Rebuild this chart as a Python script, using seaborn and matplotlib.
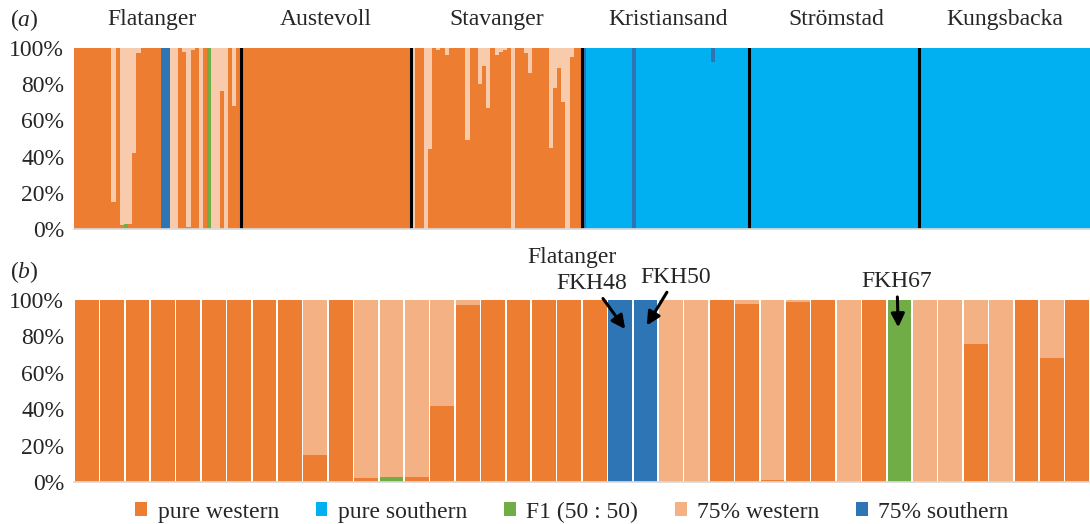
import matplotlib
matplotlib.use('Agg')
import matplotlib.pyplot as plt
from matplotlib.patches import Patch
import seaborn as sns

# ---- data (percent of each class per individual) ----
classes = ['pure western', 'pure southern', 'F1 (50 : 50)', '75% western', '75% southern']
populations = ['Flatanger', 'Austevoll', 'Stavanger', 'Kristiansand', 'Strömstad', 'Kungsbacka']

# Flatanger (40 individuals), shown in both panels
flat_west = [100, 100, 100, 100, 100, 100, 100, 100, 100, 15,
             100, 2, 0, 3, 42, 97, 100, 100, 100, 100,
             100, 0, 0, 0, 0, 100, 98, 1, 99, 100,
             0, 100, 0, 0, 0, 76, 0, 100, 68, 100]
flat_south = [0] * 40
flat_f1 = [0, 0, 0, 0, 0, 0, 0, 0, 0, 0,
           0, 0, 3, 0, 0, 0, 0, 0, 0, 0,
           0, 0, 0, 0, 0, 0, 0, 0, 0, 0,
           0, 0, 100, 0, 0, 0, 0, 0, 0, 0]
flat_w75 = [0, 0, 0, 0, 0, 0, 0, 0, 0, 85,
            0, 98, 97, 97, 58, 3, 0, 0, 0, 0,
            0, 0, 0, 100, 100, 0, 2, 99, 1, 0,
            100, 0, 0, 100, 100, 24, 100, 0, 32, 0]
flat_s75 = [0, 0, 0, 0, 0, 0, 0, 0, 0, 0,
            0, 0, 0, 0, 0, 0, 0, 0, 0, 0,
            0, 100, 100, 0, 0, 0, 0, 0, 0, 0,
            0, 0, 0, 0, 0, 0, 0, 0, 0, 0]

# Austevoll (41) - all pure western
aust_west = [100] * 41

# Stavanger (41)
stav_west = [0, 100, 100, 0, 44, 100, 99, 100, 96, 100,
             100, 100, 100, 49, 100, 100, 80, 90, 67, 100,
             96, 98, 99, 100, 0, 100, 100, 97, 86, 100,
             100, 100, 100, 45, 78, 89, 70, 0, 95, 100, 100]
stav_w75 = [100 - v for v in stav_west]

# Kristiansand (40)
kris_south = [0, 100, 100, 100, 100, 100, 100, 100, 100, 100,
              100, 100, 0, 100, 100, 100, 100, 100, 100, 100,
              100, 100, 100, 100, 100, 100, 100, 100, 100, 100,
              100, 92, 100, 100, 100, 100, 100, 100, 100, 100]
kris_s75 = [100 - v for v in kris_south]

# Strömstad (41), Kungsbacka (41) - all pure southern
stro_south = [100] * 41
kung_south = [100] * 41

pop_sizes = [40, 41, 41, 40, 41, 41]

west_a = flat_west + aust_west + stav_west + [0] * 40 + [0] * 41 + [0] * 41
south_a = flat_south + [0] * 41 + [0] * 41 + kris_south + stro_south + kung_south
f1_a = flat_f1 + [0] * 41 + [0] * 41 + [0] * 40 + [0] * 41 + [0] * 41
w75_a = flat_w75 + [0] * 41 + stav_w75 + [0] * 40 + [0] * 41 + [0] * 41
s75_a = flat_s75 + [0] * 41 + [0] * 41 + kris_s75 + [0] * 41 + [0] * 41

colors_a = ['#ED7D31', '#00B0F0', '#70AD47', '#F8CBAD', '#2E75B6']
colors_b = ['#ED7D31', '#00B0F0', '#70AD47', '#F4B183', '#2E75B6']

sns.set_theme(style='white')
plt.rcParams['font.family'] = ['Liberation Serif', 'DejaVu Serif']
plt.rcParams['mathtext.fontset'] = 'custom'
plt.rcParams['mathtext.rm'] = 'Liberation Serif'
plt.rcParams['mathtext.it'] = 'Liberation Serif:italic'
FS = 17


def stacked(ax, layers, colors, width):
    n = len(layers[0])
    idx = list(range(n))
    cum = [0] * n
    tops = []
    for layer in layers:
        cum = [c + v for c, v in zip(cum, layer)]
        tops.append(cum)
    # draw tallest first so lower classes sit on top of it
    for top, col in reversed(list(zip(tops, colors))):
        sns.barplot(x=idx, y=top, color=col, width=width, saturation=1,
                    errorbar=None, linewidth=0, ax=ax)
    ax.set_xlim(-0.5, n - 0.5)
    ax.set_ylim(0, 100)
    ax.set_xticks([])
    ax.set_yticks([0, 20, 40, 60, 80, 100])
    ax.set_yticklabels(['%d%%' % t for t in [0, 20, 40, 60, 80, 100]], fontsize=FS)
    ax.tick_params(axis='y', length=0, pad=7)
    ax.set_xlabel('')
    ax.set_ylabel('')
    for s in ['top', 'right', 'left']:
        ax.spines[s].set_visible(False)
    ax.spines['bottom'].set_color('#D9D9D9')


fig = plt.figure(figsize=(10.9, 5.24), dpi=100)
ax1 = fig.add_axes([74 / 1090, 1 - 229 / 524, 1016 / 1090, 181 / 524])
ax2 = fig.add_axes([74 / 1090, 1 - 482 / 524, 1016 / 1090, 182 / 524])

# (a) all populations
stacked(ax1, [west_a, south_a, f1_a, w75_a, s75_a], colors_a, 1.0)
label_shift = [-1.2, 0, 0, 0.6, 0.6, 0]
start = 0
for name, size, dx in zip(populations, pop_sizes, label_shift):
    ax1.text(start + size / 2 - 0.5 + dx, 1.155, name, transform=ax1.get_xaxis_transform(),
             ha='center', va='center', fontsize=FS)
    if start + size < sum(pop_sizes):
        ax1.axvline(start + size - 0.5, color='black', lw=2.2)
    start += size

# (b) Flatanger individuals
stacked(ax2, [flat_west, flat_south, flat_f1, flat_w75, flat_s75], colors_b, 0.93)

arrow = dict(arrowstyle='-|>', color='black', lw=2.2, mutation_scale=20, shrinkA=1, shrinkB=0)
ax2.text(19.1, 123.5, 'Flatanger', ha='center', va='center', fontsize=FS)
ax2.annotate('FKH48', xy=(21.2, 84), xytext=(19.9, 109), ha='center', va='center',
             fontsize=FS, arrowprops=arrow, annotation_clip=False)
ax2.annotate('FKH50', xy=(22.05, 86), xytext=(23.2, 112.5), ha='center', va='center',
             fontsize=FS, arrowprops=arrow, annotation_clip=False)
ax2.annotate('FKH67', xy=(31.95, 85), xytext=(31.9, 110), ha='center', va='center',
             fontsize=FS, arrowprops=arrow, annotation_clip=False)

fig.text(10 / 1090, 1 - 20 / 524, r'($\it{a}$)', ha='left', va='center', fontsize=FS)
fig.text(10 / 1090, 1 - 272 / 524, r'($\it{b}$)', ha='left', va='center', fontsize=FS)

handles = [Patch(facecolor=c, edgecolor='none') for c in colors_b]
fig.legend(handles, classes, loc='center', bbox_to_anchor=(572 / 1090, 1 - 512 / 524),
           ncol=5, frameon=False, fontsize=FS, handlelength=0.5, handleheight=0.5,
           handletextpad=0.45, columnspacing=1.55, borderaxespad=0)

fig.savefig('out.png', dpi=100)
